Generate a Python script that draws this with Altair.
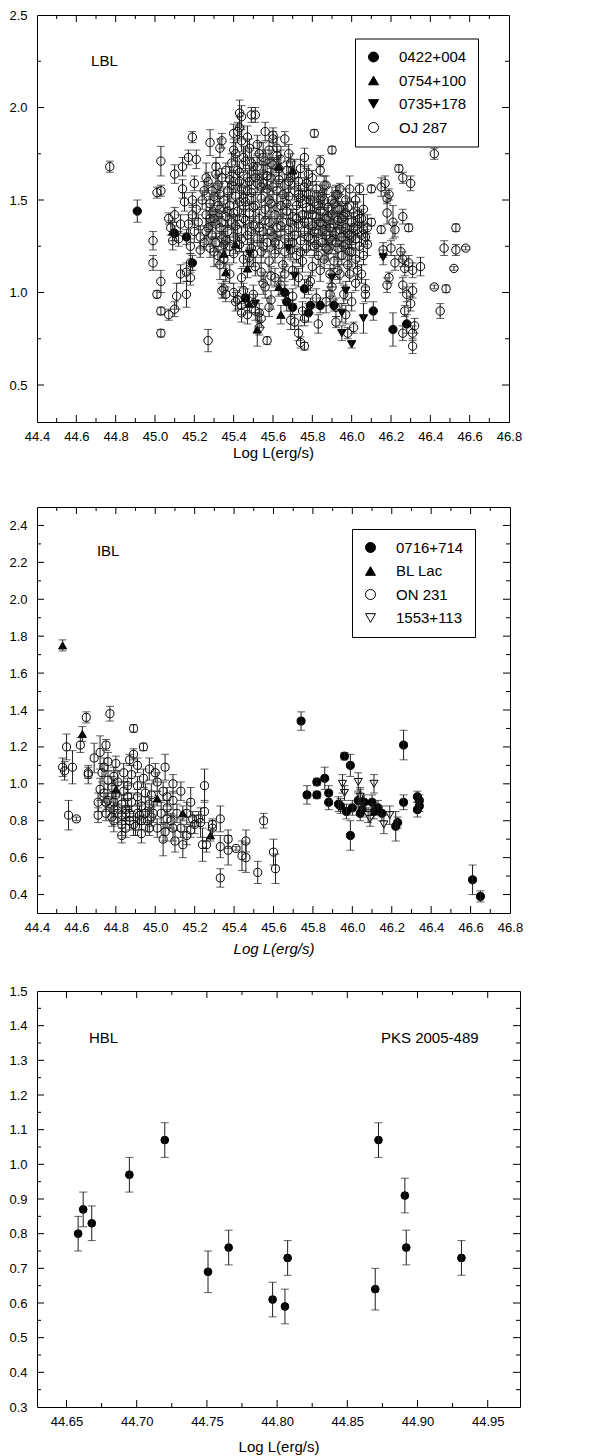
import altair as alt
import pandas as pd

FONT = "Liberation Sans"

# ---------------- Panel 1 : LBL ----------------
LBL_0422 = [(44.91, 1.44, 0.06), (45.10, 1.32, 0.04), (45.16, 1.30, 0.04), (45.19, 1.16, 0.04),
            (45.46, 0.97, 0.05), (45.66, 1.00, 0.04), (45.67, 0.95, 0.05), (45.70, 0.92, 0.04),
            (45.76, 1.02, 0.05), (45.78, 0.89, 0.05), (45.79, 0.93, 0.04), (45.84, 0.93, 0.04),
            (45.91, 0.93, 0.03), (46.11, 0.90, 0.05), (46.21, 0.80, 0.09), (46.28, 0.83, 0.05)]
LBL_0754 = [(45.09, 1.33, 0.05), (45.35, 1.21, 0.05), (45.36, 1.11, 0.05), (45.41, 1.26, 0.05),
            (45.47, 1.13, 0.05), (45.48, 0.94, 0.05), (45.52, 0.80, 0.09), (45.63, 1.03, 0.05),
            (45.64, 0.88, 0.05), (45.63, 1.68, 0.05), (45.70, 1.66, 0.05)]
LBL_0735 = [(45.48, 1.21, 0.05), (45.51, 0.94, 0.05), (45.68, 1.24, 0.05), (45.71, 1.09, 0.05),
            (45.90, 1.08, 0.05), (45.95, 0.89, 0.05), (45.95, 0.78, 0.04), (45.97, 1.01, 0.05),
            (46.00, 0.72, 0.02), (46.06, 0.86, 0.08), (46.16, 1.19, 0.04)]
LBL_OJ287 = [
    (44.77, 1.68, 0.03), (44.99, 1.28, 0.05), (44.99, 1.16, 0.04), (45.01, 0.99, 0.02),
    (45.01, 1.54, 0.03), (45.03, 1.55, 0.03), (45.03, 1.71, 0.08), (45.03, 0.90, 0.02),
    (45.03, 0.78, 0.02), (45.03, 1.06, 0.06), (45.07, 1.40, 0.03), (45.07, 0.88, 0.03),
    (45.10, 1.64, 0.05), (45.10, 1.42, 0.04), (45.10, 0.91, 0.04), (45.11, 0.98, 0.07),
    (45.13, 1.10, 0.05), (45.14, 1.56, 0.05), (45.14, 1.68, 0.05), (45.16, 0.99, 0.07),
    (45.17, 1.73, 0.04), (45.19, 1.84, 0.03), (45.18, 1.16, 0.05), (45.19, 1.50, 0.04),
    (45.21, 1.72, 0.05), (45.20, 1.59, 0.04), (45.23, 1.23, 0.04), (45.26, 1.62, 0.08),
    (45.27, 0.74, 0.06), (45.28, 1.81, 0.07), (45.29, 1.43, 0.05), (45.29, 1.55, 0.04),
    (45.31, 1.68, 0.05), (45.33, 1.15, 0.08), (45.33, 1.78, 0.05), (45.34, 1.82, 0.04),
    (45.34, 1.01, 0.04), (45.36, 0.99, 0.04), (45.40, 1.77, 0.06), (45.40, 1.86, 0.05),
    (45.40, 1.00, 0.05), (45.42, 0.96, 0.05), (45.43, 1.89, 0.06), (45.43, 1.97, 0.07),
    (45.44, 1.95, 0.06), (45.43, 1.60, 0.05), (45.44, 0.89, 0.05), (45.47, 0.88, 0.05),
    (45.48, 1.19, 0.05), (45.49, 1.96, 0.04), (45.51, 1.96, 0.04), (45.51, 0.90, 0.05),
    (45.53, 0.81, 0.04), (45.54, 0.86, 0.05), (45.54, 1.11, 0.05), (45.56, 1.87, 0.05),
    (45.55, 1.59, 0.05), (45.57, 0.74, 0.02), (45.59, 1.09, 0.05), (45.60, 1.85, 0.04),
    (45.60, 1.83, 0.04), (45.62, 1.74, 0.05), (45.66, 1.83, 0.04), (45.68, 1.75, 0.05),
    (45.69, 0.85, 0.05), (45.71, 0.84, 0.04), (45.73, 0.78, 0.04), (45.74, 0.73, 0.03),
    (45.76, 1.73, 0.05), (45.76, 0.71, 0.02), (45.78, 1.64, 0.05), (45.78, 1.04, 0.05),
    (45.81, 1.86, 0.02), (45.84, 1.71, 0.03), (45.84, 1.66, 0.03), (45.84, 1.50, 0.04),
    (45.87, 1.58, 0.05), (45.90, 1.77, 0.02), (45.89, 0.99, 0.04), (45.92, 0.84, 0.03),
    (45.93, 1.53, 0.04), (45.94, 1.56, 0.03), (45.94, 1.10, 0.05), (45.98, 0.78, 0.03),
    (45.99, 1.56, 0.07), (46.00, 0.95, 0.05), (46.01, 0.81, 0.03), (46.02, 1.50, 0.04),
    (46.04, 1.56, 0.03), (46.04, 1.40, 0.04), (46.05, 1.10, 0.05), (46.07, 1.02, 0.05),
    (46.07, 0.99, 0.04), (46.06, 1.34, 0.04), (46.10, 1.56, 0.02), (46.10, 1.38, 0.02),
    (46.15, 1.57, 0.05), (46.15, 1.34, 0.02), (46.16, 1.23, 0.04), (46.17, 1.59, 0.04),
    (46.18, 1.43, 0.06), (46.18, 1.51, 0.03), (46.19, 1.53, 0.03), (46.18, 1.04, 0.04),
    (46.19, 1.08, 0.03), (46.20, 1.24, 0.04), (46.21, 1.38, 0.09), (46.22, 1.34, 0.04),
    (46.22, 1.16, 0.04), (46.24, 1.67, 0.02), (46.26, 1.62, 0.03), (46.26, 1.41, 0.04),
    (46.25, 1.22, 0.04), (46.26, 1.18, 0.04), (46.26, 1.04, 0.04), (46.27, 1.13, 0.04),
    (46.26, 0.78, 0.04), (46.27, 0.90, 0.03), (46.28, 0.99, 0.04), (46.29, 1.35, 0.02),
    (46.29, 1.16, 0.04), (46.30, 1.59, 0.04), (46.30, 0.94, 0.04), (46.31, 1.12, 0.04),
    (46.31, 1.01, 0.04), (46.31, 0.78, 0.04), (46.31, 0.71, 0.04), (46.32, 0.82, 0.04),
    (46.35, 1.14, 0.05), (46.42, 1.75, 0.03), (46.42, 1.03, 0.01), (46.45, 0.90, 0.04),
    (46.47, 1.24, 0.04), (46.48, 1.02, 0.02), (46.52, 1.13, 0.01), (46.53, 1.35, 0.02),
    (46.53, 1.23, 0.03), (46.58, 1.24, 0.01),
    (45.21, 1.45, 0.05), (45.22, 1.38, 0.04), (45.23, 1.30, 0.06), (45.24, 1.50, 0.05),
    (45.25, 1.27, 0.04), (45.26, 1.42, 0.06), (45.27, 1.35, 0.05), (45.28, 1.24, 0.05),
    (45.28, 1.48, 0.04), (45.29, 1.31, 0.06), (45.30, 1.52, 0.05), (45.30, 1.40, 0.04),
    (45.31, 1.27, 0.05), (45.32, 1.58, 0.06), (45.32, 1.20, 0.05), (45.33, 1.45, 0.04),
    (45.33, 1.35, 0.06), (45.34, 1.62, 0.05), (45.34, 1.29, 0.04), (45.35, 1.50, 0.06),
    (45.35, 1.18, 0.05), (45.36, 1.41, 0.05), (45.36, 1.66, 0.04), (45.37, 1.33, 0.06),
    (45.37, 1.55, 0.05), (45.38, 1.25, 0.05), (45.38, 1.47, 0.06), (45.39, 1.70, 0.05),
    (45.39, 1.38, 0.04), (45.40, 1.60, 0.06), (45.40, 1.30, 0.05), (45.40, 1.21, 0.05),
    (45.41, 1.52, 0.04), (45.41, 1.75, 0.06), (45.42, 1.44, 0.05), (45.42, 1.34, 0.05),
    (45.43, 1.65, 0.06), (45.43, 1.26, 0.04), (45.44, 1.56, 0.05), (45.44, 1.82, 0.06),
    (45.45, 1.40, 0.05), (45.45, 1.18, 0.04), (45.46, 1.71, 0.06), (45.46, 1.49, 0.05),
    (45.47, 1.31, 0.05), (45.47, 1.62, 0.04), (45.48, 1.43, 0.06), (45.48, 1.78, 0.05),
    (45.49, 1.24, 0.05), (45.49, 1.54, 0.06), (45.50, 1.36, 0.04), (45.50, 1.68, 0.05),
    (45.51, 1.47, 0.06), (45.51, 1.14, 0.05), (45.52, 1.59, 0.05), (45.52, 1.29, 0.04),
    (45.53, 1.75, 0.06), (45.53, 1.40, 0.05), (45.54, 1.51, 0.05), (45.54, 1.22, 0.06),
    (45.55, 1.64, 0.05), (45.55, 1.33, 0.04), (45.56, 1.45, 0.05), (45.56, 1.71, 0.06),
    (45.57, 1.27, 0.05), (45.57, 1.56, 0.05), (45.58, 1.38, 0.04), (45.58, 1.17, 0.06),
    (45.59, 1.62, 0.05), (45.59, 1.48, 0.05), (45.60, 1.30, 0.06), (45.60, 1.69, 0.04),
    (45.61, 1.42, 0.05), (45.61, 1.21, 0.05), (45.62, 1.55, 0.06), (45.62, 1.35, 0.05),
    (45.63, 1.61, 0.04), (45.63, 1.26, 0.05), (45.64, 1.47, 0.06), (45.64, 1.72, 0.05),
    (45.65, 1.38, 0.05), (45.65, 1.15, 0.04), (45.66, 1.58, 0.06), (45.66, 1.29, 0.05),
    (45.67, 1.66, 0.05), (45.67, 1.44, 0.04), (45.68, 1.34, 0.06), (45.68, 1.52, 0.05),
    (45.69, 1.23, 0.05), (45.69, 1.62, 0.06), (45.70, 1.41, 0.04), (45.70, 1.12, 0.05),
    (45.71, 1.55, 0.05), (45.71, 1.31, 0.06), (45.72, 1.47, 0.05), (45.72, 1.20, 0.04),
    (45.73, 1.60, 0.05), (45.73, 1.37, 0.06), (45.74, 1.28, 0.05), (45.74, 1.51, 0.05),
    (45.75, 1.42, 0.04), (45.75, 1.17, 0.06), (45.76, 1.57, 0.05), (45.76, 1.33, 0.05),
    (45.77, 1.46, 0.06), (45.77, 1.24, 0.04), (45.78, 1.38, 0.05), (45.78, 1.53, 0.05),
    (45.79, 1.29, 0.06), (45.79, 1.45, 0.05), (45.80, 1.36, 0.04), (45.80, 1.14, 0.05),
    (45.81, 1.49, 0.06), (45.81, 1.25, 0.05), (45.82, 1.41, 0.05), (45.82, 1.56, 0.04),
    (45.83, 1.32, 0.06), (45.83, 1.20, 0.05), (45.84, 1.44, 0.05), (45.85, 1.37, 0.06),
    (45.85, 1.27, 0.04), (45.86, 1.50, 0.05), (45.86, 1.18, 0.05), (45.87, 1.40, 0.06),
    (45.87, 1.31, 0.05), (45.88, 1.46, 0.04), (45.88, 1.23, 0.05), (45.89, 1.35, 0.06),
    (45.90, 1.42, 0.05), (45.90, 1.28, 0.05), (45.91, 1.17, 0.04), (45.91, 1.48, 0.06),
    (45.92, 1.33, 0.05), (45.93, 1.39, 0.05), (45.93, 1.24, 0.06), (45.94, 1.45, 0.04),
    (45.95, 1.30, 0.05), (45.95, 1.20, 0.05), (45.96, 1.41, 0.06), (45.97, 1.35, 0.05),
    (45.97, 1.26, 0.04), (45.98, 1.46, 0.05), (45.98, 1.15, 0.06), (45.99, 1.31, 0.05),
    (46.00, 1.38, 0.05), (46.00, 1.22, 0.04), (46.01, 1.43, 0.06), (46.02, 1.29, 0.05),
    (46.02, 1.18, 0.05), (46.03, 1.34, 0.04), (46.04, 1.25, 0.06), (46.05, 1.40, 0.05),
    (46.06, 1.20, 0.05), (46.07, 1.30, 0.04), (46.08, 1.26, 0.06), (45.25, 1.55, 0.05),
    (45.27, 1.60, 0.05), (45.31, 1.64, 0.06), (45.42, 1.87, 0.05), (45.47, 1.84, 0.06),
    (45.52, 1.80, 0.05), (45.58, 1.77, 0.05), (45.62, 1.78, 0.06), (45.69, 1.70, 0.05),
    (45.74, 1.67, 0.05), (45.80, 1.62, 0.04), (45.86, 1.58, 0.05), (45.92, 1.53, 0.05),
    (45.97, 1.50, 0.06), (45.38, 1.10, 0.05), (45.44, 1.08, 0.05), (45.55, 1.05, 0.06),
    (45.61, 1.08, 0.05), (45.66, 1.10, 0.04), (45.73, 1.08, 0.05), (45.79, 1.06, 0.05),
    (45.84, 1.12, 0.06), (45.89, 1.10, 0.05), (45.93, 1.12, 0.05), (45.99, 1.10, 0.04),
    (46.03, 1.12, 0.05), (45.17, 1.37, 0.05), (45.18, 1.25, 0.04), (45.19, 1.42, 0.05),
    (45.20, 1.33, 0.06), (45.15, 1.49, 0.05), (45.16, 1.11, 0.05), (45.18, 1.08, 0.04),
    (45.12, 1.29, 0.04), (45.13, 1.37, 0.05), (45.08, 1.35, 0.04), (45.09, 1.28, 0.05),
    (45.35, 1.02, 0.05), (45.41, 0.95, 0.05), (45.45, 1.01, 0.04), (45.50, 0.99, 0.05),
    (45.56, 1.03, 0.06), (45.59, 0.96, 0.05), (45.64, 1.04, 0.05), (45.70, 0.98, 0.04),
    (45.75, 0.90, 0.05), (45.82, 0.97, 0.05), (45.87, 0.95, 0.06), (45.90, 1.03, 0.05),
    (45.96, 0.99, 0.05), (46.02, 1.05, 0.04), (45.44, 0.93, 0.05), (45.53, 0.89, 0.05),
    (45.58, 0.92, 0.05), (45.76, 0.86, 0.04), (45.83, 0.83, 0.05), (45.92, 0.92, 0.05),
    (45.97, 0.88, 0.05),
    (45.31, 1.37, 0.07), (45.33, 1.53, 0.06), (45.35, 1.26, 0.07), (45.37, 1.44, 0.08),
    (45.39, 1.58, 0.07), (45.41, 1.36, 0.06), (45.42, 1.66, 0.08), (45.44, 1.29, 0.07),
    (45.45, 1.51, 0.06), (45.46, 1.39, 0.08), (45.48, 1.60, 0.07), (45.49, 1.33, 0.06),
    (45.50, 1.46, 0.08), (45.50, 1.21, 0.07), (45.52, 1.68, 0.06), (45.53, 1.35, 0.08),
    (45.54, 1.57, 0.07), (45.55, 1.25, 0.06), (45.56, 1.39, 0.08), (45.57, 1.63, 0.07),
    (45.58, 1.50, 0.06), (45.59, 1.33, 0.08), (45.60, 1.57, 0.07), (45.61, 1.27, 0.06),
    (45.62, 1.46, 0.08), (45.63, 1.67, 0.07), (45.64, 1.36, 0.06), (45.65, 1.53, 0.08),
    (45.66, 1.22, 0.07), (45.67, 1.48, 0.06), (45.68, 1.60, 0.08), (45.69, 1.38, 0.07),
    (45.70, 1.27, 0.06), (45.71, 1.64, 0.08), (45.72, 1.40, 0.07), (45.73, 1.53, 0.06),
    (45.74, 1.22, 0.08), (45.75, 1.48, 0.07), (45.76, 1.38, 0.06), (45.77, 1.59, 0.08),
    (45.78, 1.30, 0.07), (45.79, 1.50, 0.06), (45.80, 1.42, 0.08), (45.81, 1.33, 0.07),
    (45.82, 1.26, 0.06), (45.83, 1.47, 0.08), (45.84, 1.38, 0.07), (45.85, 1.52, 0.06),
    (45.86, 1.34, 0.08), (45.87, 1.24, 0.07), (45.88, 1.41, 0.06), (45.89, 1.29, 0.08),
    (45.90, 1.50, 0.07), (45.91, 1.37, 0.06), (45.92, 1.27, 0.08), (45.93, 1.45, 0.07),
    (45.94, 1.34, 0.06), (45.95, 1.40, 0.08), (45.96, 1.25, 0.07), (45.97, 1.43, 0.06),
    (45.98, 1.32, 0.08), (45.99, 1.22, 0.07), (46.00, 1.30, 0.06), (46.01, 1.35, 0.08),
    (46.03, 1.42, 0.07), (46.05, 1.31, 0.06), (46.06, 1.45, 0.08), (46.08, 1.35, 0.07),
    (45.26, 1.33, 0.07), (45.28, 1.40, 0.06), (45.30, 1.22, 0.08), (45.32, 1.47, 0.07),
    (45.34, 1.38, 0.06), (45.36, 1.28, 0.08), (45.38, 1.61, 0.07), (45.40, 1.43, 0.06),
    (45.43, 1.49, 0.08), (45.47, 1.55, 0.07), (45.51, 1.62, 0.06), (45.55, 1.73, 0.08),
    (45.59, 1.70, 0.07), (45.45, 1.73, 0.06), (45.49, 1.70, 0.08),
]

# ---------------- Panel 2 : IBL ----------------
IBL_0716 = [(45.74, 1.34, 0.05), (45.77, 0.94, 0.05), (45.82, 1.01, 0.02), (45.82, 0.94, 0.02),
            (45.86, 1.03, 0.06), (45.88, 0.95, 0.04), (45.88, 0.90, 0.04), (45.93, 0.89, 0.04),
            (45.94, 0.88, 0.04), (45.96, 1.15, 0.02), (45.97, 0.85, 0.04), (45.99, 1.10, 0.06),
            (45.99, 0.72, 0.08), (46.00, 0.87, 0.04), (46.03, 0.91, 0.04), (46.04, 0.84, 0.04),
            (46.05, 0.86, 0.04), (46.06, 0.90, 0.04), (46.10, 0.90, 0.04), (46.11, 0.85, 0.04),
            (46.13, 0.87, 0.04), (46.15, 0.84, 0.04), (46.22, 0.77, 0.08), (46.23, 0.79, 0.03),
            (46.26, 1.21, 0.08), (46.26, 0.90, 0.04), (46.33, 0.86, 0.04), (46.33, 0.93, 0.03),
            (46.34, 0.91, 0.03), (46.34, 0.88, 0.03), (46.61, 0.48, 0.08), (46.65, 0.39, 0.03)]
IBL_BLLAC = [(44.53, 1.75, 0.03), (44.63, 1.27, 0.04), (44.80, 0.97, 0.04), (45.01, 0.92, 0.04),
             (45.14, 0.84, 0.04), (45.28, 0.72, 0.03), (46.04, 0.94, 0.04)]
IBL_ON231 = [
    (44.53, 1.09, 0.05), (44.55, 1.20, 0.07), (44.54, 1.07, 0.05), (44.58, 1.09, 0.09),
    (44.56, 0.83, 0.08), (44.60, 0.81, 0.01), (44.62, 1.21, 0.04), (44.65, 1.36, 0.03),
    (44.66, 1.05, 0.05), (44.66, 1.06, 0.03), (44.69, 1.14, 0.08), (44.71, 0.90, 0.05),
    (44.71, 0.83, 0.04), (44.72, 1.17, 0.09), (44.77, 1.38, 0.04), (44.75, 1.21, 0.03),
    (44.89, 1.30, 0.02), (44.94, 1.20, 0.02), (44.89, 1.16, 0.03), (44.87, 1.13, 0.03),
    (44.91, 1.10, 0.04), (44.83, 0.72, 0.04), (44.79, 0.80, 0.06), (45.25, 0.99, 0.09),
    (45.25, 0.85, 0.06), (45.13, 0.96, 0.05), (45.05, 1.09, 0.07), (45.09, 1.00, 0.05),
    (45.33, 0.81, 0.07), (45.33, 0.66, 0.06), (45.33, 0.49, 0.05), (45.37, 0.70, 0.05),
    (45.37, 0.64, 0.08), (45.41, 0.65, 0.01), (45.44, 0.61, 0.08), (45.46, 0.69, 0.06),
    (45.46, 0.60, 0.08), (45.52, 0.52, 0.06), (45.55, 0.80, 0.04), (45.60, 0.63, 0.07),
    (45.61, 0.54, 0.08), (45.24, 0.67, 0.09), (45.26, 0.67, 0.04), (45.29, 0.76, 0.04),
    (45.29, 0.78, 0.03), (45.14, 0.67, 0.07), (45.16, 0.72, 0.05), (45.18, 0.75, 0.04),
    (45.18, 0.90, 0.08), (45.19, 0.81, 0.04), (45.23, 0.79, 0.08), (45.10, 0.69, 0.06),
    (45.09, 0.76, 0.07), (45.08, 0.80, 0.04), (45.04, 0.70, 0.09), (45.05, 0.74, 0.05),
    (45.01, 0.76, 0.05), (44.99, 0.84, 0.05), (44.97, 0.89, 0.04), (44.95, 0.95, 0.05),
    (44.93, 0.80, 0.05), (44.91, 0.84, 0.04), (44.89, 0.78, 0.06), (44.87, 0.80, 0.05),
    (44.85, 0.84, 0.04), (44.83, 0.89, 0.05), (44.80, 0.94, 0.05), (44.78, 0.98, 0.06),
    (44.76, 1.02, 0.05), (44.73, 1.06, 0.05), (44.76, 0.91, 0.04), (44.81, 0.84, 0.05),
    (44.84, 0.96, 0.05), (44.86, 0.93, 0.06), (44.88, 0.90, 0.05), (44.91, 0.93, 0.04),
    (44.93, 0.88, 0.05), (44.95, 0.84, 0.05), (44.98, 0.94, 0.06), (45.01, 1.01, 0.05),
    (45.04, 0.96, 0.05), (45.06, 0.87, 0.04), (45.06, 0.93, 0.05), (44.79, 1.04, 0.05),
    (44.81, 1.01, 0.06), (44.84, 1.06, 0.05), (44.86, 0.99, 0.04), (44.88, 1.05, 0.05),
    (44.91, 0.99, 0.05), (44.97, 1.08, 0.06), (45.00, 1.06, 0.05), (44.74, 0.95, 0.05),
    (44.75, 0.84, 0.04), (44.78, 0.82, 0.05), (44.79, 0.90, 0.05), (44.83, 0.78, 0.06),
    (44.85, 0.76, 0.05), (44.87, 0.84, 0.04), (44.90, 0.77, 0.05), (44.93, 0.73, 0.05),
    (44.96, 0.80, 0.06), (44.98, 0.82, 0.05), (44.97, 0.76, 0.04), (45.11, 0.84, 0.05),
    (45.13, 0.76, 0.05), (45.16, 0.84, 0.06), (45.20, 0.78, 0.05), (45.22, 0.81, 0.04),
    (45.09, 0.91, 0.05), (45.06, 0.81, 0.05), (45.03, 0.84, 0.06), (44.94, 1.03, 0.05),
    (44.80, 1.11, 0.04), (44.76, 1.12, 0.05), (44.74, 1.09, 0.05), (44.72, 0.97, 0.06),
    (44.75, 0.90, 0.05), (44.79, 0.86, 0.04), (44.92, 0.83, 0.05), (44.83, 0.83, 0.05),
    (44.85, 0.86, 0.06),
]
IBL_1553 = [(45.95, 1.00, 0.05), (45.96, 0.95, 0.04), (46.03, 1.01, 0.05), (46.04, 0.93, 0.04),
            (46.08, 0.83, 0.04), (46.09, 0.81, 0.04), (46.11, 1.00, 0.05), (46.16, 0.78, 0.05),
            (46.19, 0.83, 0.05)]

# ---------------- Panel 3 : HBL ----------------
HBL_PKS = [(44.6583, 0.80, 0.05), (44.6619, 0.87, 0.05), (44.6680, 0.83, 0.05),
           (44.6948, 0.97, 0.05), (44.7200, 1.07, 0.05), (44.7508, 0.69, 0.06),
           (44.7655, 0.76, 0.05), (44.7968, 0.61, 0.05), (44.8056, 0.59, 0.05),
           (44.8075, 0.73, 0.05), (44.8699, 0.64, 0.06), (44.8722, 1.07, 0.05),
           (44.8910, 0.91, 0.05), (44.8920, 0.76, 0.05), (44.9313, 0.73, 0.05)]

# axis tick values
X12_LABELS = [44.4, 44.6, 44.8, 45.0, 45.2, 45.4, 45.6, 45.8, 46.0, 46.2, 46.4, 46.6, 46.8]
X12_MAJOR = [44.6, 44.8, 45.0, 45.2, 45.4, 45.6, 45.8, 46.0, 46.2, 46.4, 46.6]
X12_MINOR = [44.5, 44.7, 44.9, 45.1, 45.3, 45.5, 45.7, 45.9, 46.1, 46.3, 46.5, 46.7]
Y1_LABELS = [0.5, 1.0, 1.5, 2.0, 2.5]
Y1_MAJOR = [0.5, 1.0, 1.5, 2.0]
Y1_MINOR = [0.75, 1.25, 1.75, 2.25]
Y2_LABELS = [0.4, 0.6, 0.8, 1.0, 1.2, 1.4, 1.6, 1.8, 2.0, 2.2, 2.4]
Y2_MAJOR = Y2_LABELS
Y2_MINOR = [0.5, 0.7, 0.9, 1.1, 1.3, 1.5, 1.7, 1.9, 2.1, 2.3]
X3_LABELS = [44.65, 44.70, 44.75, 44.80, 44.85, 44.90, 44.95]
X3_MAJOR = X3_LABELS
X3_MINOR = [44.675, 44.725, 44.775, 44.825, 44.875, 44.925]
Y3_LABELS = [0.3, 0.4, 0.5, 0.6, 0.7, 0.8, 0.9, 1.0, 1.1, 1.2, 1.3, 1.4, 1.5]
Y3_MAJOR = [0.4, 0.5, 0.6, 0.7, 0.8, 0.9, 1.0, 1.1, 1.2, 1.3, 1.4]
Y3_MINOR = [0.35, 0.45, 0.55, 0.65, 0.75, 0.85, 0.95, 1.05, 1.15, 1.25, 1.35, 1.45]

BAR = "#1e1e1e"


def panel(series, legend_order, shapes, fills, xdom, ydom, W, H, xlabels, ylabels,
          xmaj, xmin, ymaj, ymin, xfmt, yfmt, italic, notes, legend_xy, msize, tpad):
    rows = []
    for name, data in series:
        rows += [(x, y, e, name) for x, y, e in data]
    df = pd.DataFrame(rows, columns=["x", "y", "e", "src"])
    df["lo"] = df["y"] - df["e"]
    df["hi"] = df["y"] + df["e"]

    xs = alt.Scale(domain=xdom, nice=False, zero=False)
    ys = alt.Scale(domain=ydom, nice=False, zero=False)

    xaxis = alt.Axis(values=xlabels, format=xfmt, title="Log L(erg/s)", grid=False,
                     ticks=False, domain=False, labelFlush=False, labelOverlap=False,
                     labelFont=FONT, labelFontSize=13, labelColor="black", labelPadding=8,
                     titleFont=FONT, titleFontSize=15, titleFontWeight="normal",
                     titleFontStyle="italic" if italic else "normal",
                     titleColor="black", titlePadding=tpad)
    yaxis = alt.Axis(values=ylabels, format=yfmt, title=None, grid=False, ticks=False,
                     domain=False, labelFlush=False, labelOverlap=False, labelFont=FONT,
                     labelFontSize=13, labelColor="black", labelPadding=10)

    def X(f):
        return alt.X(f, scale=xs, axis=xaxis)

    def Y(f):
        return alt.Y(f, scale=ys, axis=yaxis)

    base = alt.Chart(df)
    bars = base.mark_rule(color=BAR, strokeWidth=1).encode(x=X("x:Q"), y=Y("lo:Q"), y2="hi:Q")
    cap_lo = base.mark_tick(orient="horizontal", size=8, thickness=1, color=BAR).encode(
        x=X("x:Q"), y=Y("lo:Q"))
    cap_hi = base.mark_tick(orient="horizontal", size=8, thickness=1, color=BAR).encode(
        x=X("x:Q"), y=Y("hi:Q"))

    if legend_xy is not None:
        leg = alt.Legend(title=None, orient="none", legendX=legend_xy[0], legendY=legend_xy[1],
                         strokeColor="black", fillColor="white", padding=11, cornerRadius=0,
                         symbolSize=100, symbolStrokeWidth=1,
                         labelFont=FONT, labelFontSize=15, labelColor="black", labelOffset=18,
                         rowPadding=7.5)
    else:
        leg = None
    pts = base.mark_point(size=msize, strokeWidth=1, opacity=1).encode(
        x=X("x:Q"), y=Y("y:Q"),
        shape=alt.Shape("src:N", scale=alt.Scale(domain=legend_order, range=shapes), legend=leg),
        fill=alt.Fill("src:N", scale=alt.Scale(domain=legend_order, range=fills), legend=leg),
        stroke=alt.Stroke("src:N", scale=alt.Scale(domain=legend_order,
                                                   range=["black"] * len(legend_order)),
                          legend=leg),
    )

    layers = []
    for vals, L in ((xmaj, 7), (xmin, 4)):
        t = alt.Chart(pd.DataFrame({"v": vals}))
        layers.append(t.mark_rule(color="black", strokeWidth=1).encode(
            x=X("v:Q"), y=alt.value(H), y2=alt.value(H - L)))
        layers.append(t.mark_rule(color="black", strokeWidth=1).encode(
            x=X("v:Q"), y=alt.value(0), y2=alt.value(L)))
    for vals, L in ((ymaj, 7), (ymin, 4)):
        t = alt.Chart(pd.DataFrame({"v": vals}))
        layers.append(t.mark_rule(color="black", strokeWidth=1).encode(
            y=Y("v:Q"), x=alt.value(0), x2=alt.value(L)))
        layers.append(t.mark_rule(color="black", strokeWidth=1).encode(
            y=Y("v:Q"), x=alt.value(W), x2=alt.value(W - L)))

    ndf = pd.DataFrame(notes, columns=["x", "y", "t"])
    txt = alt.Chart(ndf).mark_text(align="left", baseline="middle", font=FONT, fontSize=15,
                                   color="black").encode(x=X("x:Q"), y=Y("y:Q"), text="t:N")

    return alt.layer(pts, *layers, bars, cap_lo, cap_hi, txt).properties(width=W, height=H)


p1 = panel([("OJ 287", LBL_OJ287), ("0422+004", LBL_0422), ("0754+100", LBL_0754),
            ("0735+178", LBL_0735)],
           ["0422+004", "0754+100", "0735+178", "OJ 287"],
           ["circle", "triangle-up", "triangle-down", "circle"],
           ["black", "black", "black", "transparent"],
           [44.4, 46.8], [0.3, 2.5], 472, 407, X12_LABELS, Y1_LABELS,
           X12_MAJOR, X12_MINOR, Y1_MAJOR, Y1_MINOR, ".1f", ".1f", False,
           [(44.675, 2.25, "LBL")], (318, 23.5), 70, 2)
p2 = panel([("ON 231", IBL_ON231), ("0716+714", IBL_0716), ("BL Lac", IBL_BLLAC),
            ("1553+113", IBL_1553)],
           ["0716+714", "BL Lac", "ON 231", "1553+113"],
           ["circle", "triangle-up", "circle", "triangle-down"],
           ["black", "black", "transparent", "white"],
           [44.4, 46.8], [0.3, 2.5], 473, 406, X12_LABELS, Y2_LABELS,
           X12_MAJOR, X12_MINOR, Y2_MAJOR, Y2_MINOR, ".1f", ".1f", True,
           [(44.704, 2.26, "IBL")], (315, 22), 65, 7)
p3 = panel([("PKS 2005-489", HBL_PKS)], ["PKS 2005-489"], ["circle"], ["black"],
           [44.629, 44.973], [0.3, 1.5], 483, 416, X3_LABELS, Y3_LABELS,
           X3_MAJOR, X3_MINOR, Y3_MAJOR, Y3_MINOR, ".2f", ".1f", False,
           [(44.666, 1.364, "HBL"), (44.874, 1.364, "PKS 2005-489")], None, 60, 11)

RES = dict(x="independent", y="independent", shape="independent", fill="independent",
           stroke="independent")
top = alt.vconcat(p1, p2, spacing=45).resolve_scale(**RES).resolve_legend(
    shape="independent", fill="independent", stroke="independent")
chart = alt.vconcat(top, p3, spacing=27).resolve_scale(**RES).resolve_legend(
    shape="independent", fill="independent", stroke="independent").properties(
    padding={"left": 0, "top": 0, "right": 0, "bottom": 0}
).configure_view(stroke="black", strokeWidth=1)

chart.save("out.html", embed_options={"renderer": "svg", "actions": False})
